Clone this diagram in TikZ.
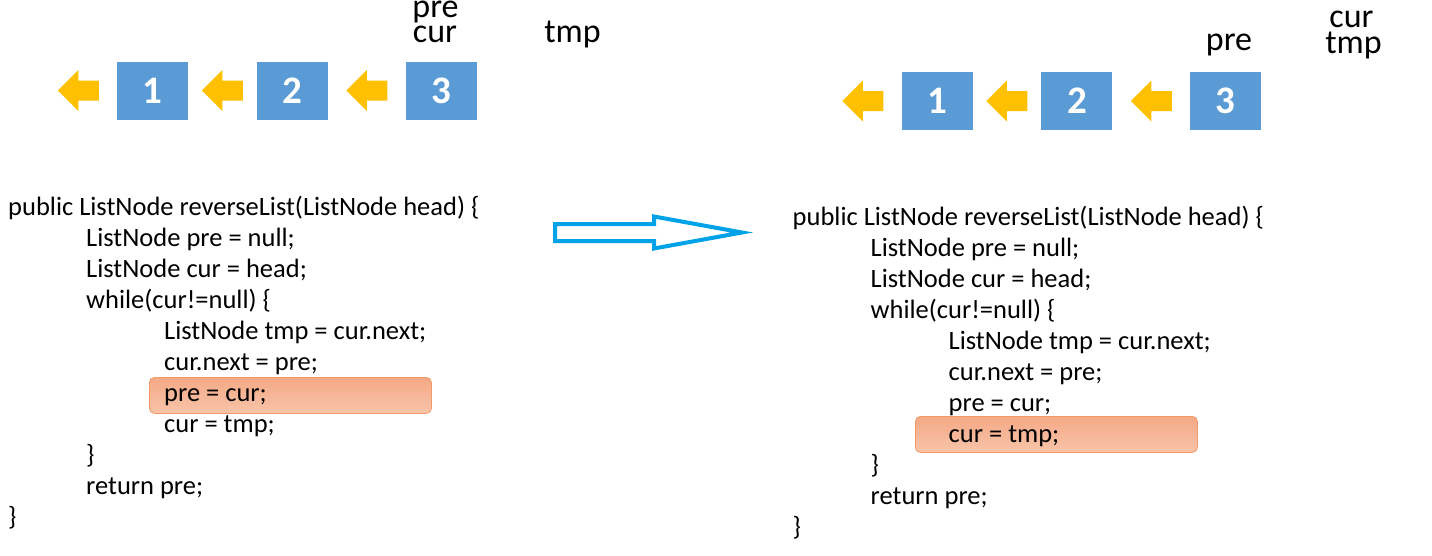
\documentclass[tikz,border=0pt]{standalone}
\usepackage{fontspec}
\setmainfont{Carlito}
\usetikzlibrary{positioning,calc}

\definecolor{nodeblue}{HTML}{5B9BD5}
\definecolor{linkyellow}{HTML}{FFC000}
\definecolor{stepblue}{HTML}{00A2E8}
\definecolor{hilitetop}{HTML}{F4A985}
\definecolor{hilitebot}{HTML}{F8C4A9}
\definecolor{hiliteedge}{HTML}{F19A68}

\begin{document}
\begin{tikzpicture}[
        x=1pt, y=-1pt,
        listnode/.style={
            fill=nodeblue,
            minimum width=71pt,
            minimum height=58pt,
            inner sep=0pt,
            text=white,
            font=\fontsize{39}{39}\selectfont\bfseries
        },
        varname/.style={anchor=base, inner sep=0pt, font=\fontsize{34}{34}\selectfont},
        codeline/.style={anchor=base west, inner sep=0pt, font=\fontsize{26.5}{31}\selectfont},
        hilite/.style={
            draw=hiliteedge,
            line width=0.8pt,
            rounded corners=5pt,
            top color=hilitetop,
            bottom color=hilitebot,
            minimum width=282pt,
            minimum height=36pt,
            anchor=north west
        },
        pics/nextptr/.style={code={
            \fill[linkyellow] (20.5,-10) -- (0,-10) -- (0,-20.5) -- (-20.5,0)
                -- (0,20.5) -- (0,10) -- (20.5,10) -- cycle;
        }},
        stepline/.style={draw=stepblue, line width=4pt, line join=miter}
    ]
        \useasboundingbox (0,0) rectangle (1432,555);

        % before / after panels
        \foreach \p/\dx/\dy/\hx/\hy in {l/0/0/149/377, r/784.5/10.5/130.5/405.5} {
            \begin{scope}[shift={(\dx,\dy)}]
                \node[listnode] (\p n1) at (152.5,90.5) {1};
                \node[listnode, right=68.5pt of \p n1] (\p n2) {2};
                \node[listnode, right=77.5pt of \p n2] (\p n3) {3};

                \pic at ([xshift=-38.5pt]\p n1.west) {nextptr};
                \pic at ($(\p n1.east)!0.5!(\p n2.west)$) {nextptr};
                \pic at ($(\p n2.east)!0.5!(\p n3.west)$) {nextptr};

                \node[hilite] (\p hl) at (\hx,\hy) {};

                \foreach \ind/\txt [count=\k] in {
                        0/{public ListNode reverseList(ListNode head) \{},
                        1/{ListNode pre = null;},
                        1/{ListNode cur = head;},
                        1/{while(cur!=null) \{},
                        2/{ListNode tmp = cur.next;},
                        2/{cur.next = pre;},
                        2/{pre = cur;},
                        2/{cur = tmp;},
                        1/{\}},
                        1/{return pre;},
                        0/{\}}} {
                    \node[codeline] (\p c\k) at (8+78*\ind, 184+31*\k) {\txt};
                }
            \end{scope}
        }

        % pointer labels
        \node[varname] (lpre) at (435.5,17) {pre};
        \node[varname] (lcur) at (435,42) {cur};
        \node[varname] (ltmp) at (572.5,42) {tmp};
        \node[varname] (rpre) at (1229,50) {pre};
        \node[varname] (rcur) at (1351.5,27) {cur};
        \node[varname] (rtmp) at (1353.5,53) {tmp};

        % step arrow
        \draw[stepline] (555,224) -- (654,224) -- (654,216.5) -- (742,232.5)
            -- (654,248.5) -- (654,241) -- (555,241) -- cycle;
    \end{tikzpicture}
\end{document}
